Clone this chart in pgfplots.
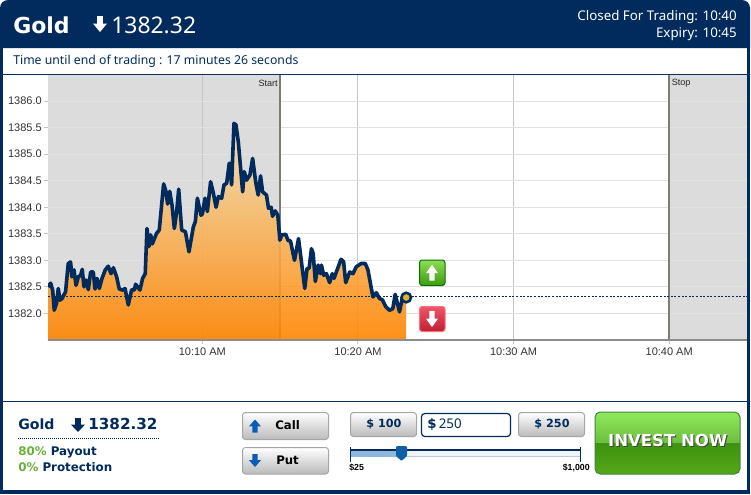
\documentclass[border=0pt]{standalone}
\usepackage{fontspec}
\setmainfont{DejaVu Sans}
\newfontfamily\arial{Liberation Sans}
\newfontfamily\tah{Noto Sans}
\usepackage{pgfplots}
\usepackage{pgfplotstable}
\pgfplotsset{compat=1.18}
\definecolor{navy}{HTML}{002B5C}
\definecolor{band}{HTML}{DCDCDC}
\definecolor{gridh}{HTML}{E2E2E2}
\definecolor{gridv}{HTML}{C4C4C4}
\definecolor{slate}{HTML}{7C7C70}
\definecolor{payg}{HTML}{6AAE3A}
\definecolor{areaT}{HTML}{F2E2B8}
\definecolor{areaM}{HTML}{F6CB70}
\definecolor{areaB}{HTML}{FF8400}
\definecolor{goldm}{HTML}{E0B428}
\definecolor{gupT}{HTML}{8FDD55}
\definecolor{gupB}{HTML}{3C9A10}
\definecolor{rdT}{HTML}{F0556A}
\definecolor{rdB}{HTML}{BE1E32}
\definecolor{slA}{HTML}{F0F4F8}
\definecolor{slB}{HTML}{B8C8D8}
\definecolor{slC}{HTML}{8DB8DC}
\definecolor{thumb}{HTML}{1060A8}
\definecolor{invA}{HTML}{90EA5C}
\definecolor{invB}{HTML}{6CBE3E}
\definecolor{invC}{HTML}{3E9210}
\definecolor{invD}{HTML}{56A818}
\definecolor{arrb}{HTML}{0B5CB8}
\pgfplotstableread{
m v
0.08 1382.50
0.25 1382.57
0.38 1382.44
0.48 1382.06
0.63 1382.19
0.74 1382.47
0.85 1382.25
0.98 1382.28
1.21 1382.41
1.38 1382.94
1.53 1382.97
1.62 1382.69
1.75 1382.82
1.88 1382.53
2.03 1382.69
2.18 1382.72
2.28 1382.83
2.39 1382.50
2.52 1382.63
2.67 1382.45
2.82 1382.78
2.99 1382.78
3.10 1382.46
3.23 1382.66
3.38 1382.47
3.55 1382.66
3.76 1382.82
3.95 1382.89
4.13 1382.75
4.28 1382.86
4.49 1382.69
4.66 1382.46
4.88 1382.44
5.03 1382.47
5.24 1382.16
5.46 1382.45
5.63 1382.44
5.71 1382.55
5.99 1382.44
6.16 1382.66
6.33 1382.75
6.44 1383.60
6.57 1383.26
6.68 1383.48
6.78 1383.31
7.06 1383.51
7.23 1383.57
7.51 1384.44
7.64 1384.32
7.77 1384.06
7.90 1384.30
8.05 1384.04
8.20 1383.60
8.35 1383.92
8.48 1384.34
8.67 1383.57
8.91 1383.54
9.14 1383.16
9.42 1383.63
9.55 1383.73
9.68 1384.17
9.91 1383.85
10.00 1383.87
10.17 1384.17
10.32 1383.92
10.53 1384.48
10.71 1384.26
10.88 1384.00
11.03 1384.20
11.24 1384.17
11.39 1384.42
11.56 1384.45
11.73 1384.83
11.88 1384.42
12.03 1385.58
12.16 1385.55
12.31 1385.23
12.59 1384.29
12.69 1384.67
12.84 1384.51
13.06 1384.61
13.23 1384.92
13.44 1384.45
13.59 1384.23
13.74 1384.59
13.87 1384.29
14.12 1384.23
14.25 1383.98
14.42 1384.00
14.51 1383.83
14.68 1383.93
14.85 1383.85
14.98 1383.38
15.11 1383.48
15.36 1383.49
15.51 1383.37
15.66 1383.37
15.92 1383.00
16.18 1383.41
16.58 1382.47
16.73 1382.85
16.86 1382.85
17.01 1383.22
17.12 1383.13
17.26 1382.60
17.44 1382.91
17.59 1382.75
17.65 1382.91
17.80 1382.72
17.97 1382.75
18.18 1382.58
18.35 1382.75
18.46 1382.66
18.91 1383.02
19.08 1382.97
19.21 1382.58
19.47 1382.78
19.68 1382.75
19.89 1382.88
20.21 1382.94
20.47 1382.94
20.64 1382.82
20.96 1382.31
21.18 1382.39
21.39 1382.28
21.56 1382.26
21.78 1382.13
22.03 1382.06
22.24 1382.09
22.39 1382.36
22.67 1382.03
22.84 1382.28
23.10 1382.30
}\goldtable
\newcommand\fs[1]{\fontsize{#1}{#1}\selectfont}
% x, y centre, half width, half height
\newcommand\arrdn[5]{\fill[#5] ({#1-#3*0.42},{#2-#4}) -- ({#1+#3*0.42},{#2-#4}) -- ({#1+#3*0.42},{#2-#4*0.05}) -- ({#1+#3},{#2-#4*0.05}) -- (#1,{#2+#4}) -- ({#1-#3},{#2-#4*0.05}) -- ({#1-#3*0.42},{#2-#4*0.05}) -- cycle;}
\newcommand\arrup[5]{\fill[#5] ({#1-#3*0.42},{#2+#4}) -- ({#1+#3*0.42},{#2+#4}) -- ({#1+#3*0.42},{#2+#4*0.05}) -- ({#1+#3},{#2+#4*0.05}) -- (#1,{#2-#4}) -- ({#1-#3},{#2+#4*0.05}) -- ({#1-#3*0.42},{#2+#4*0.05}) -- cycle;}
\newcommand\btn[4]{\shade[draw=black!35,line width=0.75pt,rounded corners=2.2pt,top color=white,bottom color=black!27] (#1,#2) rectangle (#3,#4);}
\begin{document}
\begin{tikzpicture}[x=0.75pt,y=-0.75pt]
\path (0,0) rectangle (751,494);
% frame
\fill[navy] (0,48) [rounded corners=6pt] -- (0,0) -- (750,0) [sharp corners] -- (750,48) -- cycle;
\fill[navy] (0,48) rectangle (3,494);
\fill[navy] (747,48) rectangle (750,494);
\fill[navy] (0,490) rectangle (750,494);
\fill[navy] (3,74) rectangle (747,75);
\fill[navy] (3,401) rectangle (747,402);
% header
\node[anchor=west,inner sep=0pt,text=white] at (13,25) {\fs{16.5}\bfseries Gold};
\arrdn{100}{24}{7}{8}{white}
\node[anchor=west,inner sep=0pt,text=white] at (111,25) {\fs{17.2}\tah 1382.32};
\node[anchor=east,inner sep=0pt,text=white] at (737,17) {\fs{10}\tah Closed For Trading: 10:40};
\node[anchor=east,inner sep=0pt,text=white] at (737,34) {\fs{10}\tah Expiry: 10:45};
\node[anchor=west,inner sep=0pt,text=navy] at (13,61.5) {\fs{9.2}\tah Time until end of trading : 17 minutes 26 seconds};
\begin{axis}[
  at={(36pt,-255pt)},anchor=south west,
  scale only axis,width=524.25pt,height=198.75pt,
  set layers,
  xmin=0.08,xmax=45,ymin=1381.5,ymax=1386.49,
  axis line style={draw=none},
  axis x line*=bottom,axis y line*=left,
  xtick={10,20,30,40},
  xticklabels={10:10 AM,10:20 AM,10:30 AM,10:40 AM},
  ytick={1382,1382.5,1383,1383.5,1384,1384.5,1385,1385.5,1386},
  yticklabel style={/pgf/number format/fixed,/pgf/number format/fixed zerofill,/pgf/number format/precision=1,/pgf/number format/1000 sep={},/pgf/number format/assume math mode=true},
  ticklabel style={font=\fontsize{8.25}{10}\arial\selectfont,text=black!80},
  x tick label style={yshift=0.5pt},
  y tick label style={xshift=1.8pt},
  tick style={draw=gridv,line width=0.75pt},
  tick align=outside,major tick length=3pt,
  ymajorgrids,xmajorgrids,
  x grid style={draw=gridv,line width=0.75pt},
  y grid style={draw=gridh,line width=0.75pt},
]
\addplot[fill=band,draw=none,on layer=axis background] coordinates {(0.08,1381.5)(15,1381.5)(15,1386.49)(0.08,1386.49)} --cycle;
\addplot[fill=band,draw=none,on layer=axis background] coordinates {(40,1381.5)(45,1381.5)(45,1386.49)(40,1386.49)} --cycle;
\addplot[draw=slate,line width=1.1pt] coordinates {(15,1381.5)(15,1386.49)};
\addplot[draw=slate,line width=1.1pt] coordinates {(40,1381.5)(40,1386.49)};
\addplot[draw=none,shade,top color=areaT,middle color=areaM,bottom color=areaB,fill opacity=0.9] table[x=m,y=v] {\goldtable} \closedcycle;
\addplot[draw=black!45,line width=1.5pt] coordinates {(0.08,1381.5)(45,1381.5)};
\addplot[draw=navy,line width=1.2pt,dash pattern=on 1.5pt off 1.2pt] coordinates {(0.08,1382.32)(45,1382.32)};
\addplot[draw=navy,line width=2.7pt,line join=round] table[x=m,y=v] {\goldtable};
\addplot[only marks,mark=*,mark size=3.6pt,mark options={draw=navy,fill=goldm,line width=1.9pt}] coordinates {(23.10,1382.30)};
\end{axis}
\node[anchor=east,inner sep=0pt,text=black!85] at (278,83.5) {\fs{6.8}\arial Start};
\node[anchor=west,inner sep=0pt,text=black!85] at (671.5,83.5) {\fs{6.8}\arial Stop};
% up/down
\shade[draw=green!45!black,line width=0.75pt,rounded corners=2pt,top color=gupT,bottom color=gupB] (419.5,260) rectangle (445,285.5);
\arrup{432}{272.7}{6}{8}{white}
\shade[draw=red!55!white,line width=0.75pt,rounded corners=2pt,top color=rdT,bottom color=rdB] (419.5,306.5) rectangle (445,331.5);
\arrdn{432}{319}{6}{8}{white}
% lower left
\node[anchor=west,inner sep=0pt,text=navy] at (18,424) {\fs{10.6}\bfseries Gold};
\arrdn{78}{425}{7}{7}{navy}
\node[anchor=west,inner sep=0pt,text=navy] at (88,424) {\fs{11.4}\bfseries 1382.32};
\draw[navy,line width=0.75pt,dash pattern=on 0.75pt off 0.75pt] (18,438.5) -- (160,438.5);
\node[anchor=west,inner sep=0pt] at (18,452) {\fs{8.9}\bfseries\textcolor{payg}{80\%} \textcolor{navy}{Payout}};
\node[anchor=west,inner sep=0pt] at (18,467.5) {\fs{8.9}\bfseries\textcolor{payg}{0\%} \textcolor{navy}{Protection}};
% call/put
\btn{242.5}{412.5}{328.5}{439.5}
\arrup{255}{426}{6}{6.5}{arrb}
\node[anchor=west,inner sep=0pt,text=black] at (275,425.5) {\fs{8.8}\bfseries Call};
\btn{242.5}{447.5}{328.5}{474}
\arrdn{255}{460.5}{6}{6.5}{arrb}
\node[anchor=west,inner sep=0pt,text=black] at (276,460) {\fs{8.8}\bfseries Put};
% amounts
\btn{350.5}{412.5}{416.5}{436.5}
\node[inner sep=0pt,text=navy] at (384,424.5) {\fs{8.4}\bfseries \$ 100};
\draw[navy,line width=0.9pt,fill=white,rounded corners=2.5pt] (421.5,413.5) rectangle (510.5,436.5);
\node[anchor=west,inner sep=0pt,text=navy] at (427,424) {\fs{10}\bfseries\$\tah\mdseries\,250};
\btn{518.5}{412.5}{584.5}{436.5}
\node[inner sep=0pt,text=navy] at (552,424.5) {\fs{8.4}\bfseries \$ 250};
% slider
\fill[slA] (350,451) rectangle (580,456);
\draw[slB,line width=0.6pt] (350,456.5) -- (580,456.5);
\fill[slC] (350,451) rectangle (401,456.5);
\draw[navy,line width=1.4pt] (350,450) -- (580,450);
\draw[navy,line width=0.75pt] (350.5,447) -- (350.5,462);
\draw[navy,line width=0.75pt] (580.5,447) -- (580.5,462);
\fill[thumb,rounded corners=0.8pt] (396,446) -- (407,446) -- (407,456) -- (401.5,461) -- (396,456) -- cycle;
\node[anchor=west,inner sep=0pt,text=black] at (349,468) {\fs{6.6}\arial\bfseries \$25};
\node[anchor=east,inner sep=0pt,text=black] at (590,468) {\fs{6.6}\arial\bfseries \$1,000};
% invest
\begin{scope}
\clip[rounded corners=4pt] (595,412) rectangle (740,474);
\shade[top color=invA,bottom color=invB] (595,412) rectangle (740,443.5);
\shade[top color=invC,bottom color=invD] (595,443.5) rectangle (740,474);
\end{scope}
\draw[green!35!black!75,line width=0.75pt,rounded corners=4pt] (595,412) rectangle (740,474);
\node[inner sep=0pt,text=black!75] at (668.7,441.7) {\fs{12.4}\bfseries INVEST NOW};
\node[inner sep=0pt,text=white] at (667.7,440.7) {\fs{12.4}\bfseries INVEST NOW};
\end{tikzpicture}
\end{document}
